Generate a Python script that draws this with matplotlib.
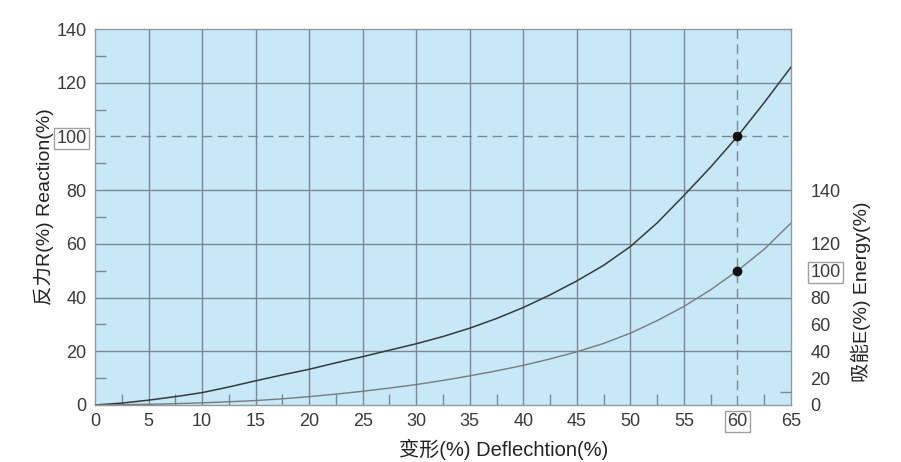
import numpy as np
import matplotlib.pyplot as plt

plt.rcParams['font.family'] = ['Liberation Sans', 'Noto Sans CJK SC', 'DejaVu Sans']

# deflection (%) and curves
deflection = [0, 2.5, 5, 7.5, 10, 12.5, 15, 17.5, 20, 22.5, 25, 27.5, 30, 32.5,
              35, 37.5, 40, 42.5, 45, 47.5, 50, 52.5, 55, 57.5, 60, 62.5, 65]
reaction = [0, 0.7, 1.8, 3.1, 4.6, 6.7, 9.0, 11.2, 13.3, 15.7, 18.0, 20.4, 22.8, 25.5,
            28.6, 32.2, 36.3, 41.0, 46.2, 52.0, 59.0, 67.8, 78.0, 88.6, 100, 112.6, 125.8]
energy = [0, 0.2, 0.5, 1.0, 1.6, 2.4, 3.3, 4.6, 6.2, 8.1, 10.2, 12.6, 15.2, 18.3,
          21.7, 25.4, 29.5, 34.3, 39.6, 45.8, 53.5, 62.8, 73.4, 85.8, 100, 116, 135.5]

rated_deflection = 60
rated_reaction = 100
rated_energy = 100

x_ticks = list(range(0, 66, 5))
y_ticks = list(range(0, 141, 20))
energy_tick_pos = [0, 20, 40, 60, 80, 100, 120, 160]
energy_tick_labels = ['0', '20', '40', '60', '80', '100', '120', '140']

bg = '#c6e8f7'
grid_c = '#7b8891'
txt_c = '#3a3a3a'

fig = plt.figure(figsize=(9.01, 4.62), dpi=100)
ax = fig.add_axes([0.1054, 0.1234, 0.7725, 0.8138])
ax.set_facecolor(bg)

ax.set_xlim(0, 65)
ax.set_ylim(0, 140)
ax.set_xticks(x_ticks)
ax.set_yticks(y_ticks)
ax.set_xticks(np.arange(2.5, 65, 5), minor=True)
ax.set_yticks(np.arange(10, 140, 20), minor=True)
ax.tick_params(which='major', length=0, labelsize=13, labelcolor=txt_c, pad=6)
ax.tick_params(which='minor', direction='in', length=8, color=grid_c, width=1)
for s in ax.spines.values():
    s.set_color('#8f9aa2')
    s.set_linewidth(1)

# grid, leaving out the lines replaced by the dashed reference lines
for xv in x_ticks[1:-1]:
    if xv != rated_deflection:
        ax.axvline(xv, color=grid_c, lw=1.0, zorder=1)
for yv in y_ticks[1:-1]:
    if yv != rated_reaction:
        ax.axhline(yv, color=grid_c, lw=1.0, zorder=1)

ax.axhline(rated_reaction, xmax=0.995, color=grid_c, lw=1.0, ls=(0, (7, 4)), zorder=1.5)
ax.axvline(rated_deflection, color=grid_c, lw=1.0, ls=(0, (7, 4)), zorder=1.5)

ax.plot(deflection, reaction, color='#3a3a3a', lw=1.1, zorder=3)
ax.plot([rated_deflection], [rated_reaction], 'o', color='#111111', ms=6, zorder=4)

ax2 = ax.twinx()
ax2.set_ylim(0, 280)
ax2.set_yticks(energy_tick_pos)
ax2.set_yticklabels(energy_tick_labels)
ax2.set_yticks([10, 20, 60, 100], minor=True)
ax2.tick_params(which='major', length=0, labelsize=13, labelcolor=txt_c, pad=14)
ax2.tick_params(which='minor', direction='in', length=8, color=grid_c, width=1)
for s in ax2.spines.values():
    s.set_visible(False)
ax2.plot(deflection, energy, color='#7a7a7a', lw=1.0, zorder=3)
ax2.plot([rated_deflection], [rated_energy], 'o', color='#111111', ms=6, zorder=4)

# boxed labels
box = dict(boxstyle='square,pad=0.12', fc='white', ec='#a0a0a0', lw=1)
for lab in ax.get_yticklabels():
    if lab.get_text() == '100':
        lab.set_bbox(box)
for lab in ax.get_xticklabels():
    if lab.get_text() == '60':
        lab.set_bbox(box)
for lab in ax2.get_yticklabels():
    if lab.get_text() == '100':
        lab.set_bbox(box)

fig.text(0.049, 0.552, '反力R(%) Reaction(%)', rotation=90, ha='center', va='center',
         fontsize=14, color='#222222')
fig.text(0.955, 0.368, '吸能E(%) Energy(%)', rotation=90, ha='center', va='center',
         fontsize=14, color='#222222')
fig.text(0.559, 0.028, '变形(%) Deflechtion(%)', ha='center', va='center',
         fontsize=14.5, color='#222222')

fig.savefig('out.png', dpi=100, facecolor='white')
